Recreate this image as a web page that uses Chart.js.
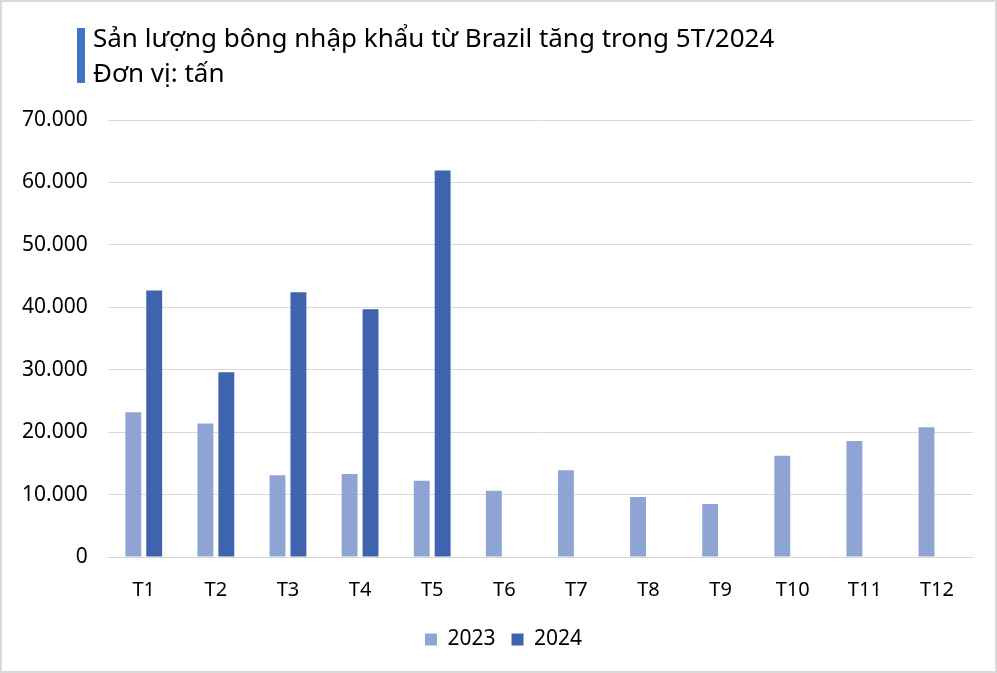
<!DOCTYPE html>
<html>
<head>
<meta charset="utf-8">
<script src="https://cdn.jsdelivr.net/npm/chart.js@4.4.1/dist/chart.umd.min.js"></script>
<style>
    html, body { margin: 0; padding: 0; background: #fff; }
    .wrap { position: relative; width: 997px; height: 673px; box-sizing: border-box; border: 2px solid #d9d9d9; }
    .bar { position: absolute; left: 75px; top: 26px; width: 8px; height: 55px; background: #4472C4; }
    .title {
        position: absolute; left: 91px; top: 18px;
        font-family: "Noto Sans", sans-serif; font-size: 26px; line-height: 35px; color: #000;
    }
    canvas { position: absolute; left: 0; top: 0; }
</style>
</head>
<body>
<div class="wrap">
    <canvas id="chart" width="993" height="669"></canvas>
    <div class="bar"></div>
    <div class="title">Sản lượng bông nhập khẩu từ Brazil tăng trong 5T/2024<br>Đơn vị: tấn</div>
</div>
<script>
// sản lượng theo tháng, tấn
const months = ["T1", "T2", "T3", "T4", "T5", "T6", "T7", "T8", "T9", "T10", "T11", "T12"];
const y2023 = [23200, 21400, 13100, 13300, 12200, 10600, 13900, 9600, 8500, 16200, 18600, 20800];
const y2024 = [42700, 29600, 42400, 39700, 61900, null, null, null, null, null, null, null];
const yTicks = [0, 10000, 20000, 30000, 40000, 50000, 60000, 70000];

function fmt(v) {
    return String(v).replace(/\B(?=(\d{3})+(?!\d))/g, ".");
}

// legend sits a bit right of centre in the original
const legendShift = {
    id: "legendShift",
    afterLayout(chart) {
        chart.legend.left += 16;
        chart.legend.right += 16;
    }
};

const ctx = document.getElementById("chart");
new Chart(ctx, {
    type: "bar",
    data: {
        labels: months,
        datasets: [{
            label: "2023",
            data: y2023,
            backgroundColor: "#8FA4D4",
            categoryPercentage: 0.58,
            barPercentage: 0.76
        }, {
            label: "2024",
            data: y2024,
            backgroundColor: "#3E64AD",
            categoryPercentage: 0.58,
            barPercentage: 0.76
        }]
    },
    options: {
        responsive: false,
        animation: false,
        layout: { padding: { top: 118, right: 22, left: 0, bottom: 11 } },
        plugins: {
            legend: {
                position: "bottom",
                labels: {
                    boxWidth: 12, boxHeight: 12, padding: 16,
                    color: "#000",
                    font: { family: "Noto Sans", size: 21 }
                }
            },
            tooltip: { enabled: false }
        },
        scales: {
            x: {
                grid: { display: false },
                border: { color: "#d9d9d9" },
                ticks: { color: "#000", padding: 13, font: { family: "Noto Sans", size: 20 } },
                afterFit: axis => { axis.height -= 2; }
            },
            y: {
                min: 0, max: 70000,
                afterBuildTicks: axis => { axis.ticks = yTicks.map(v => ({ value: v })); },
                grid: { color: "#d9d9d9", drawTicks: false },
                border: { display: false },
                ticks: {
                    color: "#000", padding: 20,
                    font: { family: "Noto Sans", size: 21 },
                    callback: v => fmt(v)
                }
            }
        }
    },
    plugins: [legendShift]
});
</script>
</body>
</html>
